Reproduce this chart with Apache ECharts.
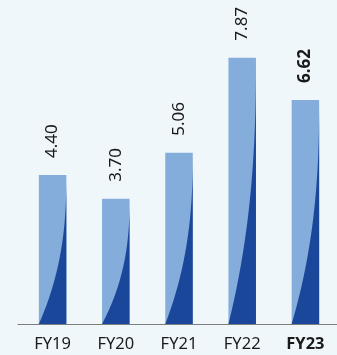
<!DOCTYPE html>
<html><head><meta charset="utf-8">
<script src="https://cdn.jsdelivr.net/npm/echarts@6/dist/echarts.min.js"></script>
<style>html,body{margin:0;padding:0;background:#EFF7FB;}#c{width:337px;height:355px;}</style>
</head><body><div id="c"></div>
<script>
const categories = ['FY19', 'FY20', 'FY21', 'FY22', 'FY23'];
const values = [4.40, 3.70, 5.06, 7.87, 6.62];
const highlightIndex = 4;

const chart = echarts.init(document.getElementById('c'), null, {renderer: 'canvas'});
const BW = 27.5;
const FONT = '"Noto Sans", "Open Sans", sans-serif';

const barData = values.map((v, i) => i === highlightIndex
  ? {value: v, label: {fontWeight: 'bold'}}
  : v);

chart.setOption({
  backgroundColor: '#EFF7FB',
  animation: false,
  grid: [
    {left: 21, right: -6, top: 19.4, bottom: 31},
    {left: 18, right: 0, top: 19.4, bottom: 31}
  ],
  xAxis: [{
    type: 'category', data: categories, gridIndex: 0,
    axisLine: {show: false}, axisTick: {show: false},
    axisLabel: {
      interval: 0, hideOverlap: false,
      color: '#1a1a1a', fontFamily: FONT, fontSize: 16.5, margin: 12,
      formatter: (v, i) => i === highlightIndex ? '{b|' + v + '}' : v,
      rich: {b: {fontWeight: 'bold', color: '#1a1a1a', fontFamily: FONT, fontSize: 16.5}}
    }
  }, {
    type: 'value', gridIndex: 1, min: 0, max: 1,
    axisLine: {show: true, lineStyle: {color: '#7d7d7d', width: 1}},
    axisTick: {show: false}, axisLabel: {show: false}, splitLine: {show: false}
  }],
  yAxis: [
    {type: 'value', min: 0, max: 9, show: false, gridIndex: 0},
    {type: 'value', min: 0, max: 1, show: false, gridIndex: 1}
  ],
  series: [{
    type: 'bar', data: barData, barWidth: BW,
    itemStyle: {color: '#84ADDC'},
    label: {
      show: true, position: 'top', rotate: 90, align: 'left', verticalAlign: 'middle',
      distance: 17, color: '#1a1a1a', fontFamily: FONT, fontSize: 17,
      formatter: p => p.value.toFixed(2)
    }
  }, {
    type: 'custom', data: values.map((v, i) => [i, v]), z: 3,
    renderItem: (params, api) => {
      const top = api.coord([api.value(0), api.value(1)]);
      const bot = api.coord([api.value(0), 0]);
      const left = top[0] - BW / 2, right = top[0] + BW / 2;
      const H = bot[1] - top[1];
      const pts = [];
      const N = 60;
      for (let k = 0; k <= N; k++) {
        const u = k / N;
        const t = 1 - Math.pow(1 - u, 2.4);
        pts.push([left + t * BW, bot[1] - u * H]);
      }
      pts.push([right, bot[1]]);
      return {type: 'polygon', shape: {points: pts}, style: {fill: '#1B479B'}};
    }
  }]
});
</script></body></html>
